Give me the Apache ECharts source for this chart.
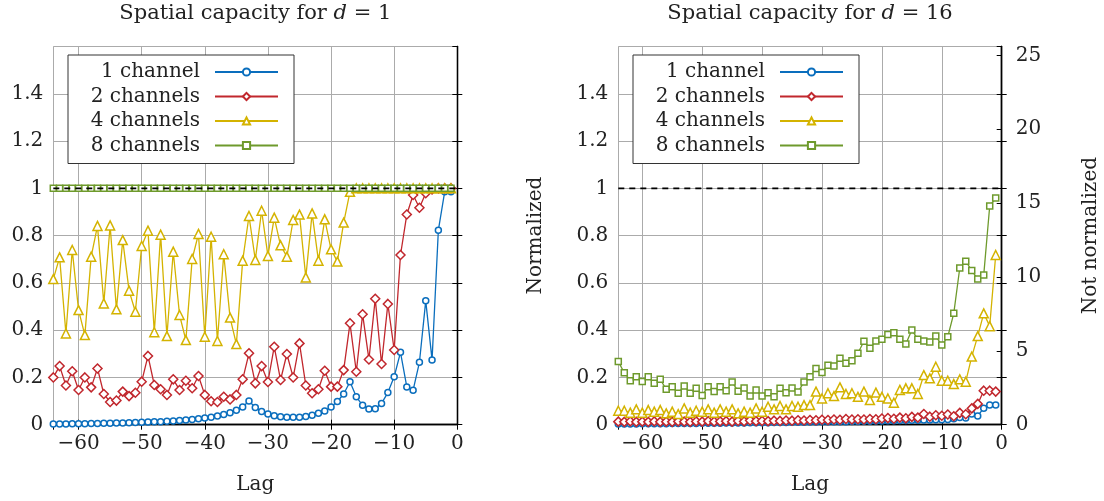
<!DOCTYPE html>
<html>
<head>
<meta charset="utf-8">
<script src="https://cdn.jsdelivr.net/npm/echarts@6/dist/echarts.min.js"></script>
<style>html,body{margin:0;padding:0;background:#fff}#c{width:1104px;height:501px}</style>
</head>
<body>
<div id="c"></div>
<script>
// ---- data ----
const lags = [-64,-63,-62,-61,-60,-59,-58,-57,-56,-55,-54,-53,-52,-51,-50,-49,-48,-47,-46,-45,-44,-43,-42,-41,-40,-39,-38,-37,-36,-35,-34,-33,-32,-31,-30,-29,-28,-27,-26,-25,-24,-23,-22,-21,-20,-19,-18,-17,-16,-15,-14,-13,-12,-11,-10,-9,-8,-7,-6,-5,-4,-3,-2,-1];
const xRange = [-64, 0];
const seriesNames = ['1 channel','2 channels','4 channels','8 channels'];
const titlesD = ['1','16'];
const refLevel = 1;

// d = 1 (normalized)
const d1_ch1 = [0.003,0.003,0.003,0.004,0.004,0.004,0.005,0.005,0.006,0.006,0.007,0.007,0.008,0.009,0.010,0.011,0.012,0.013,0.015,0.016,0.018,0.020,0.022,0.025,0.028,0.032,0.037,0.043,0.051,0.061,0.075,0.100,0.073,0.056,0.045,0.038,0.034,0.032,0.031,0.032,0.035,0.040,0.048,0.058,0.075,0.098,0.130,0.182,0.118,0.082,0.066,0.068,0.090,0.136,0.203,0.306,0.160,0.146,0.264,0.524,0.274,0.823,0.985,0.985];
const d1_ch2 = [0.200,0.248,0.166,0.226,0.147,0.200,0.158,0.238,0.130,0.096,0.102,0.140,0.121,0.135,0.182,0.291,0.168,0.150,0.126,0.192,0.147,0.186,0.154,0.206,0.126,0.099,0.096,0.118,0.107,0.126,0.192,0.302,0.175,0.248,0.181,0.330,0.189,0.299,0.200,0.344,0.166,0.133,0.150,0.228,0.161,0.161,0.231,0.429,0.224,0.467,0.276,0.533,0.257,0.511,0.316,0.718,0.889,0.972,0.918,0.979,0.995,1.0,1.0,1.0];
const d1_ch4 = [0.616,0.708,0.386,0.739,0.485,0.379,0.711,0.841,0.513,0.843,0.488,0.781,0.567,0.478,0.756,0.821,0.391,0.804,0.375,0.732,0.464,0.358,0.701,0.807,0.372,0.795,0.354,0.721,0.453,0.341,0.694,0.883,0.697,0.905,0.714,0.876,0.759,0.711,0.866,0.889,0.623,0.894,0.694,0.869,0.742,0.690,0.855,0.985,1.0,1.0,1.0,1.0,1.0,1.0,1.0,1.0,1.0,1.0,1.0,1.0,1.0,1.0,1.0,1.0];
const d1_ch8 = [1,1,1,1,1,1,1,1,1,1,1,1,1,1,1,1,1,1,1,1,1,1,1,1,1,1,1,1,1,1,1,1,1,1,1,1,1,1,1,1,1,1,1,1,1,1,1,1,1,1,1,1,1,1,1,1,1,1,1,1,1,1,1,1];

// d = 16 (normalized)
const d16_ch1 = [0.003,0.003,0.003,0.003,0.004,0.004,0.004,0.004,0.004,0.005,0.005,0.005,0.005,0.005,0.006,0.006,0.006,0.006,0.007,0.007,0.007,0.007,0.008,0.008,0.008,0.008,0.009,0.009,0.009,0.010,0.010,0.010,0.011,0.011,0.012,0.012,0.012,0.013,0.013,0.014,0.014,0.015,0.015,0.016,0.016,0.017,0.017,0.018,0.018,0.019,0.019,0.020,0.020,0.021,0.021,0.022,0.025,0.030,0.028,0.045,0.037,0.070,0.083,0.083];
const d16_ch2 = [0.013,0.012,0.014,0.012,0.013,0.012,0.014,0.012,0.013,0.012,0.014,0.013,0.012,0.014,0.013,0.015,0.013,0.014,0.015,0.013,0.016,0.014,0.018,0.015,0.016,0.015,0.017,0.016,0.018,0.017,0.019,0.018,0.020,0.019,0.021,0.020,0.022,0.021,0.024,0.022,0.023,0.022,0.024,0.023,0.026,0.028,0.025,0.030,0.027,0.033,0.030,0.045,0.034,0.040,0.038,0.043,0.036,0.050,0.044,0.069,0.088,0.144,0.144,0.140];
const d16_ch4 = [0.059,0.059,0.051,0.065,0.051,0.062,0.055,0.062,0.048,0.055,0.045,0.069,0.051,0.059,0.055,0.065,0.051,0.065,0.055,0.065,0.048,0.055,0.051,0.069,0.055,0.076,0.065,0.079,0.065,0.079,0.076,0.083,0.083,0.140,0.111,0.133,0.121,0.158,0.130,0.133,0.118,0.140,0.104,0.136,0.118,0.111,0.093,0.147,0.154,0.154,0.130,0.210,0.196,0.245,0.186,0.186,0.172,0.192,0.182,0.288,0.375,0.471,0.417,0.718];
const d16_ch8 = [0.267,0.220,0.186,0.203,0.183,0.203,0.175,0.192,0.150,0.161,0.133,0.164,0.133,0.154,0.124,0.161,0.140,0.161,0.144,0.181,0.141,0.155,0.121,0.147,0.121,0.135,0.118,0.154,0.135,0.155,0.138,0.181,0.203,0.238,0.221,0.252,0.248,0.281,0.260,0.271,0.302,0.353,0.323,0.354,0.362,0.382,0.389,0.362,0.341,0.401,0.361,0.354,0.350,0.375,0.337,0.372,0.471,0.663,0.692,0.652,0.616,0.633,0.925,0.959];

const colors = ['#0a6ebd','#c1272d','#d4b300','#6e9a2c'];
const symbols = ['circle','diamond','triangle','rect'];
const symSizes = [6,9,9,6];

const FONT = 'DejaVu Serif';
const TXT = '#222';
const GRIDC = '#ababab';

function fmtTick(v){ return v < 0 ? '\u2212' + (-v) : String(v); }

function mkSeries(vals, k, gi){
  return {
    type:'line', name: seriesNames[k],
    xAxisIndex: gi*2, yAxisIndex: gi*2,
    data: lags.map((l,i)=>[l, vals[i]]),
    symbol: symbols[k], symbolSize: symSizes[k], showSymbol:true,
    lineStyle:{color: colors[k], width:1.3},
    itemStyle:{color:'#fff', borderColor: colors[k], borderWidth:1.5},
    emphasis:{disabled:true}, z: 1+k
  };
}
// dashed reference line at normalized level 1, drawn as its own series on top
function refSeries(gi){
  return {
    type:'line', name:'ref'+gi, xAxisIndex: gi*2, yAxisIndex: gi*2,
    data: xRange.map(x => [x, refLevel]),
    symbol:'none', silent:true, z: 20, zlevel: 0,
    lineStyle:{color:'#000', type:[6,5], width:1.8},
    emphasis:{disabled:true}
  };
}

const grids = [
  {left:53.3, right:1104-457.3, top:46.5, bottom:76.3},
  {left:618.3, right:1104-1001.7, top:46.5, bottom:76.3}
];

function xAx(gi, pos){
  return { type:'value', gridIndex: gi, position: pos, min:xRange[0], max:xRange[1],
    axisLine:{show:true, lineStyle:{color:'#000', width:1.3}},
    axisTick:{show:true, inside:true, length:5, lineStyle:{color:'#000'}},
    splitLine:{show: pos==='bottom', lineStyle:{color:GRIDC, width:1}},
    axisLabel:{show: pos==='bottom', formatter: fmtTick, showMinLabel:false,
      fontFamily:FONT, fontSize:20, color:TXT, margin:9},
    name: pos==='bottom' ? 'Lag' : '', nameLocation:'middle', nameGap:50,
    nameTextStyle:{fontFamily:FONT, fontSize:20, color:TXT}
  };
}
function yAx(gi, pos, showLabels, name){
  return { type:'value', gridIndex: gi, position: pos, min:0, max:1.6, interval:0.2,
    axisLine:{show:true, lineStyle:{color:'#000', width:1.3}},
    axisTick:{show:true, inside:true, length:5, lineStyle:{color:'#000'}},
    splitLine:{show: pos==='left', lineStyle:{color:GRIDC, width:1}},
    axisLabel:{show: showLabels, showMaxLabel:false, formatter: v=> String(+v.toFixed(1)),
      fontFamily:FONT, fontSize:20, color:TXT, margin:10},
    name: name || '', nameLocation:'middle', nameGap:73, nameRotate:90,
    nameTextStyle:{fontFamily:FONT, fontSize:20, color:TXT}
  };
}

const legendBase = {
  orient:'vertical', top:55, align:'right', data: seriesNames,
  itemWidth:63, itemHeight:9, itemGap:4.5,
  padding:[7,15,8,6], backgroundColor:'#fff', borderColor:'#333', borderWidth:1, borderRadius:0,
  selectedMode:false, z: 30,
  textStyle:{fontFamily:FONT, fontSize:20, color:TXT, width:126, align:'right', lineHeight:20, padding:[0,10,0,0]}
};

const titleRich = {
  n:{fontFamily:FONT, fontSize:21, color:TXT, fontWeight:'normal'},
  i:{fontFamily:FONT, fontSize:21, color:TXT, fontStyle:'italic', fontWeight:'normal'}
};

const option = {
  animation:false,
  backgroundColor:'#fff',
  title: [
    {text:'{n|Spatial capacity for }{i|d}{n| = '+titlesD[0]+'}', left:255.3, textAlign:'center', top:3, padding:0, textStyle:{fontWeight:'normal', rich:titleRich}},
    {text:'{n|Spatial capacity for }{i|d}{n| = '+titlesD[1]+'}', left:810, textAlign:'center', top:3, padding:0, textStyle:{fontWeight:'normal', rich:titleRich}}
  ],
  legend: [
    Object.assign({}, legendBase, {left:68}),
    Object.assign({}, legendBase, {left:633})
  ],
  grid: grids,
  xAxis: [xAx(0,'bottom'), xAx(0,'top'), xAx(1,'bottom'), xAx(1,'top')],
  yAxis: [
    yAx(0,'left',true),
    yAx(0,'right',false),
    yAx(1,'left',true,'Normalized'),
    yAx(1,'right',false),
    { type:'value', gridIndex:1, position:'right', min:0, max:25.6, interval:5,
      axisLine:{show:true, lineStyle:{color:'#000', width:1.3}},
      axisTick:{show:true, inside:true, length:5, lineStyle:{color:'#000'}},
      splitLine:{show:false},
      axisLabel:{showMaxLabel:false, fontFamily:FONT, fontSize:20, color:TXT, margin:14},
      name:'Not normalized', nameLocation:'middle', nameGap:79, nameRotate:90,
      nameTextStyle:{fontFamily:FONT, fontSize:20, color:TXT}
    }
  ],
  series: [
    mkSeries(d1_ch1,0,0), mkSeries(d1_ch2,1,0), mkSeries(d1_ch4,2,0), mkSeries(d1_ch8,3,0),
    mkSeries(d16_ch1,0,1), mkSeries(d16_ch2,1,1), mkSeries(d16_ch4,2,1), mkSeries(d16_ch8,3,1),
    refSeries(0), refSeries(1)
  ]
};

const chart = echarts.init(document.getElementById('c'), null, {renderer:'canvas'});
chart.setOption(option);
</script>
</body>
</html>
